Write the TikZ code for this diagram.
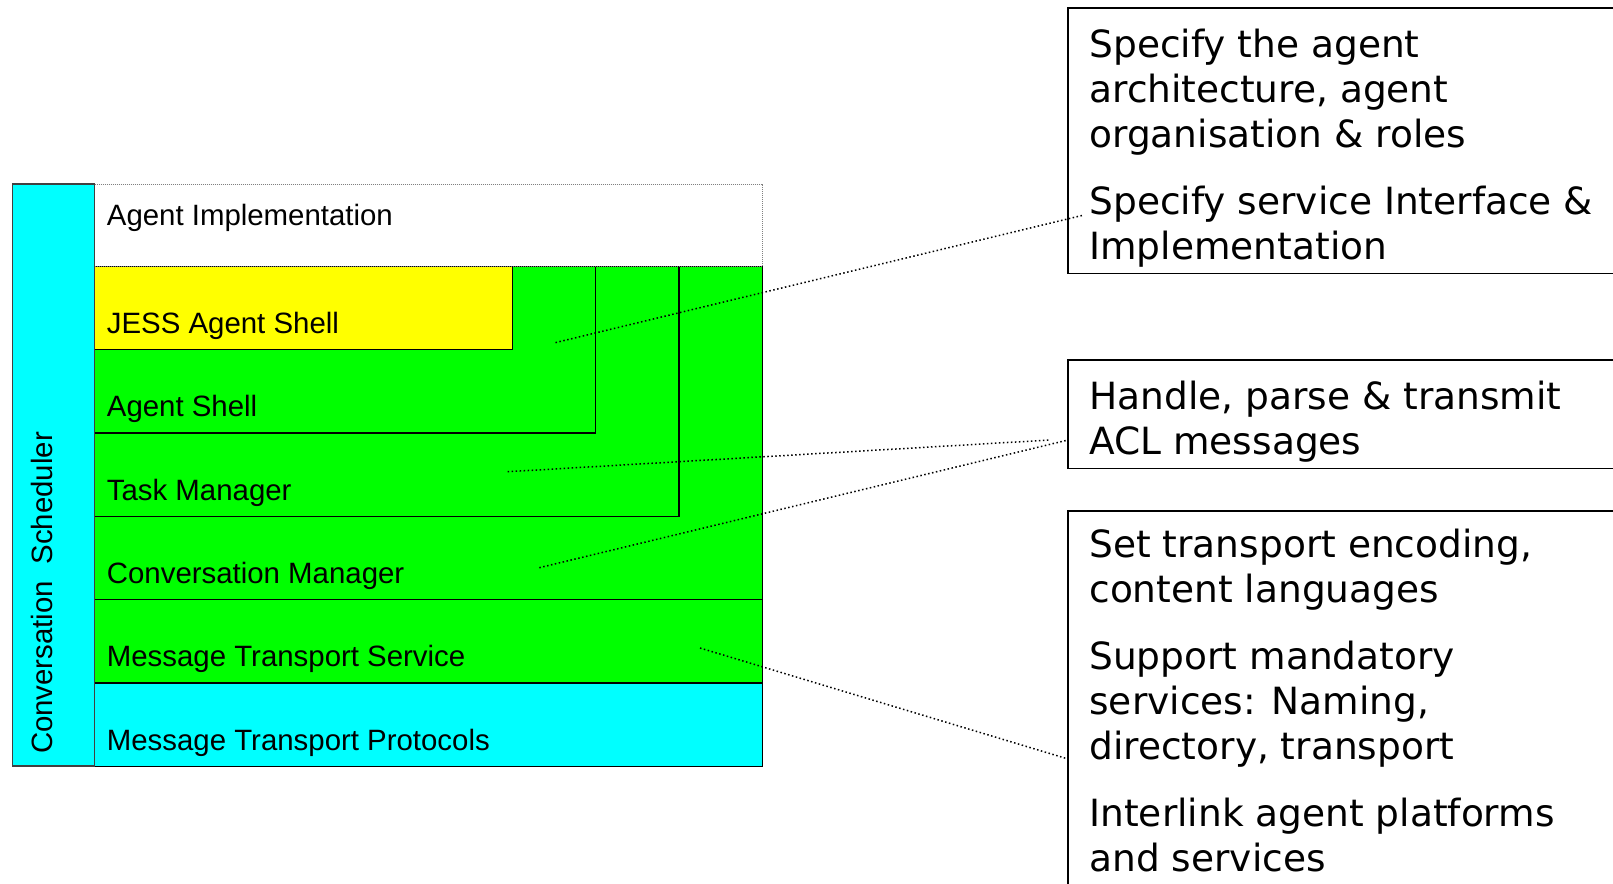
\documentclass[tikz,border=0pt]{standalone}
\usepackage{fontspec}
\setmainfont{Liberation Sans}
\newfontfamily\dvfont{DejaVu Sans}
\definecolor{cyanfill}{RGB}{0,255,255}
\definecolor{greenfill}{RGB}{0,255,0}
\definecolor{yellowfill}{RGB}{255,255,0}
\begin{document}
\begin{tikzpicture}[x=0.5pt,y=-0.5pt,
  layer/.style={draw=black, line width=0.55pt, inner sep=0pt, outer sep=0pt, anchor=north west},
  lbl/.style={anchor=base west, inner sep=0pt, font=\fontsize{14.7}{17}\selectfont},
  rbox/.style={draw=black, line width=0.8pt, fill=white, inner sep=0pt, outer sep=0pt, anchor=north west},
  rtext/.style={anchor=north west, inner sep=0pt, align=left, font=\dvfont\fontsize{18.75}{22.5}\selectfont},
  link/.style={line width=0.75pt, dash pattern=on 0.75pt off 1.25pt}]
\clip (0,0) rectangle (1613,884);
\fill[white] (0,0) rectangle (1613,884);

% layered stack
\node[layer, fill=greenfill, minimum width=333.85pt, minimum height=166.65pt] (conv) at (94.6,266.4) {};
\node[layer, fill=greenfill, minimum width=292.2pt, minimum height=125pt] (task) at (94.6,266.4) {};
\node[layer, fill=greenfill, minimum width=250.5pt, minimum height=83.3pt] (shell) at (94.6,266.4) {};
\node[layer, fill=yellowfill, minimum width=208.85pt, minimum height=41.7pt] (jess) at (94.6,266.4) {};
\node[layer, fill=greenfill, minimum width=333.85pt, minimum height=41.65pt] (mts) at (94.6,599.7) {};
\node[layer, fill=cyanfill, minimum width=333.85pt, minimum height=41.7pt] (mtp) at (94.6,683) {};
\node[layer, draw=gray, line width=0.5pt, dash pattern=on 0.5pt off 0.5pt, fill=white, minimum width=333.85pt, minimum height=41.2pt] (impl) at (94.6,184) {};
\node[layer, draw=black!75, fill=cyanfill, minimum width=41.15pt, minimum height=291pt] (sched) at (12.3,184) {};

% labels
\node[lbl] (implL) at (106.5,225) {Agent Implementation};
\node[lbl] (jessL) at (106.5,333.3) {JESS Agent Shell};
\node[lbl] (shellL) at (106.5,416.6) {Agent Shell};
\node[lbl] (taskL) at (106.5,500) {Task Manager};
\node[lbl] (convL) at (106.5,583.3) {Conversation Manager};
\node[lbl] (mtsL) at (106.5,666.6) {Message Transport Service};
\node[lbl] (mtpL) at (106.5,750) {Message Transport Protocols};
\node[rotate=90, anchor=base, inner sep=0pt, font=\fontsize{14.7}{17}\selectfont] (schedL) at (52.3,593) {Conversation\ \ Scheduler};

% right-hand boxes
\node[rbox, minimum width=316pt, minimum height=132.8pt] (b1) at (1068,8) {};
\node[rbox, minimum width=316pt, minimum height=54.25pt] (b2) at (1068,360) {};
\node[rbox, minimum width=316pt, minimum height=220pt] (b3) at (1068,510.7) {};

\node[rtext] (t1) at (1089,28.3) {Specify the agent\\architecture, agent\\organisation \& roles\\[11pt]Specify service Interface \&\\Implementation};
\node[rtext] (t2) at (1089,381) {Handle, parse \& transmit\\ACL messages};
\node[rtext] (t3) at (1089,529) {Set transport encoding,\\content languages\\[11pt]Support mandatory\\services: Naming,\\directory, transport\\[11pt]Interlink agent platforms\\and services};

% connectors
\coordinate (s1) at (555.5,342.6);
\coordinate (s2) at (507.7,471.7);
\coordinate (s3) at (539.3,567.7);
\coordinate (s4) at (700,648);
\coordinate (e1) at (1084,215);
\coordinate (e2) at (1050,440);
\coordinate (e3) at (1068,440);
\coordinate (e4) at (1068,759);
\draw[link] (s1) -- (e1);
\draw[link] (s2) -- (e2);
\draw[link] (s3) -- (e3);
\draw[link] (s4) -- (e4);
\end{tikzpicture}
\end{document}
